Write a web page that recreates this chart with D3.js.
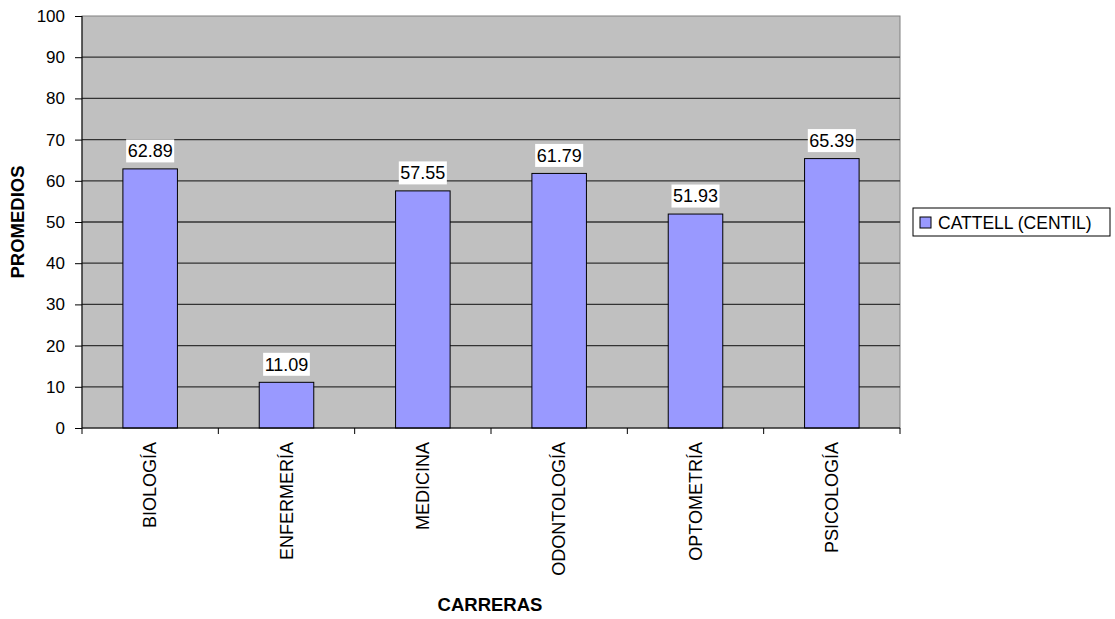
<!DOCTYPE html>
<html>
<head>
<meta charset="utf-8">
<script src="https://cdn.jsdelivr.net/npm/d3@7"></script>
<style>
  body { margin: 0; background: #fff; }
  text { font-family: "Liberation Sans", Arial, sans-serif; }
</style>
</head>
<body>
<svg width="1115" height="619"></svg>
<script>
// data
var carreras = ["BIOLOGÍA", "ENFERMERÍA", "MEDICINA", "ODONTOLOGÍA", "OPTOMETRÍA", "PSICOLOGÍA"];
var promedios = [62.89, 11.09, 57.55, 61.79, 51.93, 65.39];
var yTicks = [0, 10, 20, 30, 40, 50, 60, 70, 80, 90, 100];
var serieName = "CATTELL (CENTIL)";

var svg = d3.select("svg"),
    margin = {top: 16, left: 82},
    width = 818,
    height = 412,
    g = svg.append("g").attr("transform", "translate(" + margin.left + "," + margin.top + ")");

var xScale = d3.scaleBand().domain(carreras).range([0, width]).padding(0),
    yScale = d3.scaleLinear().domain([0, 100]).range([height, 0]);

// plot background
g.append("rect")
    .attr("width", width)
    .attr("height", height)
    .attr("fill", "#c0c0c0")
    .attr("stroke", "#808080");

// gridlines
g.append("g")
    .selectAll("line")
    .data(yTicks.filter(function(d) { return d > 0 && d < 100; }))
    .enter().append("line")
    .attr("x1", 0).attr("x2", width)
    .attr("y1", function(d) { return yScale(d); })
    .attr("y2", function(d) { return yScale(d); })
    .attr("stroke", "#333")
    .attr("stroke-width", 1.3);

// bars
var barW = xScale.bandwidth() * 0.4;
g.selectAll(".bar")
    .data(promedios)
    .enter().append("rect")
    .attr("class", "bar")
    .attr("x", function(d, i) { return xScale(carreras[i]) + (xScale.bandwidth() - barW) / 2; })
    .attr("y", function(d) { return yScale(d); })
    .attr("width", barW)
    .attr("height", function(d) { return height - yScale(d); })
    .attr("fill", "#9999ff")
    .attr("stroke", "#000")
    .attr("stroke-width", 1);

// value labels with white box
var lab = g.selectAll(".lab")
    .data(promedios)
    .enter().append("g")
    .attr("class", "lab")
    .attr("transform", function(d, i) {
        return "translate(" + (xScale(carreras[i]) + xScale.bandwidth() / 2) + "," + (yScale(d) - 18) + ")";
    });
var boxes = lab.append("rect")
    .attr("fill", "#fff");
var labTxt = lab.append("text")
    .attr("text-anchor", "middle")
    .attr("dy", "0.35em")
    .style("font-size", "18px")
    .text(function(d) { return d.toFixed(2); });
labTxt.each(function(d, i) {
    var w = this.getComputedTextLength() + 3;
    d3.select(boxes.nodes()[i])
        .attr("x", -w / 2).attr("y", -11.5)
        .attr("width", w).attr("height", 23);
});

// y axis
var yAxis = g.append("g")
    .call(d3.axisLeft(yScale).tickValues(yTicks).tickSize(7).tickPadding(10).tickFormat(d3.format("d")));
yAxis.select(".domain").attr("stroke", "#000").attr("d", "M0," + height + "V0");
yAxis.selectAll("text").style("font-size", "17px").attr("fill", "#000")
    .style("font-family", "'Liberation Sans', Arial, sans-serif");

// x axis
var xAxis = g.append("g")
    .attr("transform", "translate(0," + height + ")")
    .call(d3.axisBottom(xScale).tickSize(0).tickPadding(0));
xAxis.select(".domain").attr("stroke", "#000").attr("d", "M0,0H" + width);
xAxis.selectAll("text")
    .style("font-size", "18px")
    .style("font-family", "'Liberation Sans', Arial, sans-serif")
    .attr("fill", "#000")
    .attr("text-anchor", "end")
    .attr("transform", "rotate(-90)")
    .attr("x", -14)
    .attr("y", 6)
    .attr("dy", "0");
// tick marks at category boundaries
g.append("g")
    .selectAll("line")
    .data(d3.range(carreras.length + 1))
    .enter().append("line")
    .attr("x1", function(i) { return i * xScale.step(); })
    .attr("x2", function(i) { return i * xScale.step(); })
    .attr("y1", height).attr("y2", height + 6)
    .attr("stroke", "#000");

// axis titles
svg.append("text")
    .attr("transform", "translate(24," + (margin.top + height / 2) + ")rotate(-90)")
    .attr("text-anchor", "middle")
    .style("font-size", "18.5px")
    .style("font-weight", "bold")
    .text("PROMEDIOS");

svg.append("text")
    .attr("x", 490)
    .attr("y", 611)
    .attr("text-anchor", "middle")
    .style("font-size", "18.5px")
    .style("font-weight", "bold")
    .text("CARRERAS");

// legend
var leg = svg.append("g").attr("transform", "translate(913,208)");
leg.append("rect")
    .attr("width", 197).attr("height", 28)
    .attr("fill", "#fff").attr("stroke", "#000");
leg.append("rect")
    .attr("x", 7).attr("y", 9)
    .attr("width", 11).attr("height", 11)
    .attr("fill", "#9999ff").attr("stroke", "#000");
leg.append("text")
    .attr("x", 25).attr("y", 21)
    .style("font-size", "17.5px")
    .text(serieName);
</script>
</body>
</html>
